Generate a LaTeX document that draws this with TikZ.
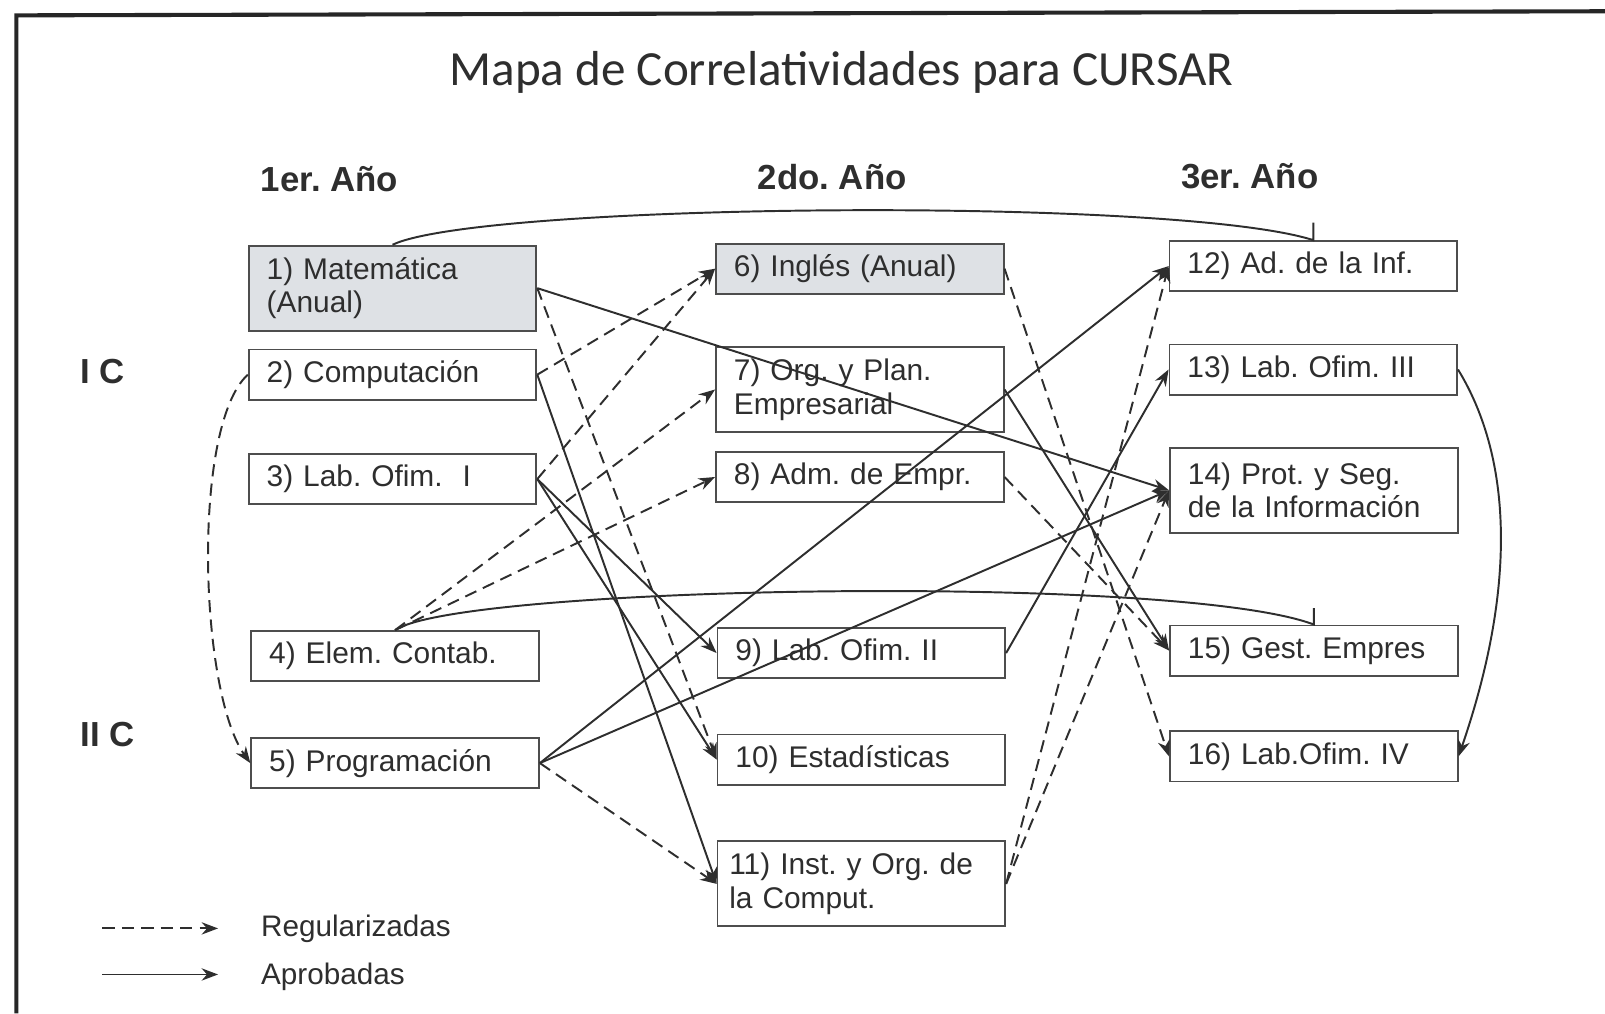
\documentclass[tikz,border=0pt]{standalone}
\usepackage{fontspec}
\setmainfont{Liberation Sans}
\newfontfamily\titlefont{Carlito}
\usetikzlibrary{arrows.meta,positioning}
\frenchspacing
\definecolor{tinta}{HTML}{2E2E2E}
\definecolor{borde}{HTML}{4D4D4D}
\definecolor{anualgris}{HTML}{DEE1E5}
\tikzset{
  materia/.style={draw=borde, line width=0.9pt, fill=white, rectangle,
    minimum height=24.5pt, text width=123pt, inner xsep=8.75pt, align=left,
    text=tinta, font=\fontsize{14.6}{16.5}\selectfont},
  doble/.style={minimum height=41.5pt},
  anual/.style={fill=anualgris},
  ancha/.style={text width=129pt, inner xsep=5.75pt},
  apro/.style={draw=tinta, line width=0.95pt, -{Stealth[length=8pt,width=6pt]}},
  regu/.style={apro, dash pattern=on 6pt off 3.5pt},
  anio/.style={font=\fontsize{17}{20}\selectfont\bfseries, text=tinta},
  leyenda/.style={font=\fontsize{14.5}{17}\selectfont, text=tinta, anchor=west},
}

\begin{document}
\begin{tikzpicture}[x=0.5pt, y=0.5pt]
    \useasboundingbox (0,0) rectangle (1568,-990);

    % marco
    \draw[line width=2pt, draw=black!85] (16,-990) -- (16,-15) -- (1568,-11);

    % === Titulo y encabezados ===
    \node[text=tinta, font=\titlefont\fontsize{24}{28}\selectfont] (titulo) at (822,-71) {Mapa de Correlatividades para CURSAR};
    \node[anio] (anio1) at (322,-175) {1er. Año};
    \node[anio] (anio2) at (813,-173) {2do. Año};
    \node[anio] (anio3) at (1221,-172) {3er. Año};
    \node[anio] (cuat1) at (100,-363) {I C};
    \node[anio] (cuat2) at (105,-718) {II C};

    % === 1er. Año ===
    \node[materia, doble, anual] (b1) at (383.5,-281.5) {1) Matemática\\(Anual)};
    \node[materia] (b2) at (383.5,-366) {2) Computación};
    \node[materia] (b3) at (383.5,-468) {3) Lab. Ofim.\ \ I};
    \node[materia] (b4) at (386,-641) {4) Elem. Contab.};
    \node[materia] (b5) at (386,-745.5) {5) Programación};

    % === 2do. Año ===
    \node[materia, anual] (b6) at (840,-262.5) {6) Inglés (Anual)};
    \node[materia, doble] (b7) at (840,-380.5) {7) Org. y Plan.\\Empresarial};
    \node[materia] (b8) at (840,-466) {8) Adm. de Empr.};
    \node[materia] (b9) at (841.5,-638) {9) Lab. Ofim. II};
    \node[materia] (b10) at (841.5,-742) {10) Estadísticas};
    \node[materia, doble, ancha] (b11) at (841.5,-863.5) {11) Inst. y Org. de\\la Comput.};

    % === 3er. Año ===
    \node[materia] (b12) at (1283,-260) {12) Ad. de la Inf.};
    \node[materia] (b13) at (1283,-361) {13) Lab. Ofim. III};
    \node[materia, doble] (b14) at (1283.5,-479) {14) Prot. y Seg.\\de la Información};
    \node[materia] (b15) at (1283.5,-635.5) {15) Gest. Empres};
    \node[materia] (b16) at (1283.5,-739) {16) Lab.Ofim. IV};

    % Regularizadas
    \draw[regu] (b2.west) .. controls +(-55,-50) and +(-50,70) .. (b5.west);
    \draw[regu] (b1.east) -- (b10.west);
    \draw[regu] (b2.east) -- (b6.west);
    \draw[regu] (b3.east) -- (b6.west);
    \draw[regu] (b4.north) -- (b7.west);
    \draw[regu] (b4.north) -- (b8.west);
    \draw[regu] (b5.east) -- (b11.west);
    \draw[regu] (b6.east) -- (b16.west);
    \draw[regu] (b8.east) -- (b15.west);
    \draw[regu] (b11.east) -- (b12.west);
    \draw[regu] (b11.east) -- (b14.west);

    % Aprobadas
    \draw[apro] (b1.east) -- (b14.west);
    \draw[apro] (b2.east) -- (b11.west);
    \draw[apro] (b3.east) -- (b9.west);
    \draw[apro] (b3.east) -- (b10.west);
    \draw[apro] (b5.east) -- (b12.west);
    \draw[apro] (b5.east) -- (b14.west);
    \draw[apro] (b7.east) -- (b15.west);
    \draw[apro] (b9.east) -- (b13.west);
    \draw[apro] (b13.east) .. controls +(55,-90) and +(55,160) .. (b16.east);
    \draw[draw=tinta, line width=0.95pt] (b1.north) .. controls (470,-198) and (1150,-192) .. (b12.north) -- ++(0,17);
    \draw[draw=tinta, line width=0.95pt] (b4.north) .. controls (450,-572) and (1150,-560) .. (b15.north) -- ++(0,16);

    % === Leyenda ===
    \coordinate (regA) at (100,-907);
    \coordinate (regB) at (213,-907);
    \coordinate (aprA) at (100,-952);
    \coordinate (aprB) at (213,-952);
    \draw[regu] (regA) -- (regB);
    \draw[apro] (aprA) -- (aprB);
    \node[leyenda] (txtReg) at (248,-907) {Regularizadas};
    \node[leyenda] (txtApr) at (248,-954) {Aprobadas};

\end{tikzpicture}
\end{document}
